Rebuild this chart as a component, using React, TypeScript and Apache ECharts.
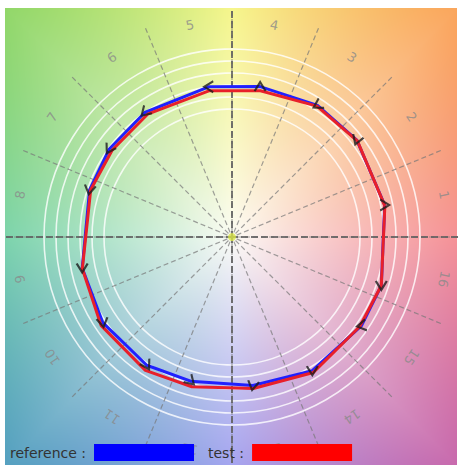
import React, { useEffect, useRef } from "react";
import * as echarts from "echarts";

// hue sector labels (counter-clockwise from the right)
const categories = ["1", "2", "3", "4", "5", "6", "7", "8", "9", "10", "11", "12", "13", "14", "15", "16"];

// reference curve (blue): hue angle (deg) and radius
const refAngle = [11.8, 37.8, 57, 79.4, 98.8, 125, 144.5, 161.7, 191.7, 213.5, 236.4, 254, 278, 301, 325.6, 342];
const refRadius = [156, 158, 157, 153, 152, 152, 151, 150, 153, 155, 154, 150, 150, 156, 157, 157];

// test curve (red)
const testAngle = [11.5, 37.5, 57, 79, 99, 124.5, 144, 161.5, 192, 214, 237, 255, 278, 301, 325, 342];
const testRadius = [156, 158, 156, 149, 148, 149, 148, 149, 153, 158, 159, 155, 153, 158, 156, 157];

// screen direction (deg, ccw from right) of the arrow marker at each reference vertex
const arrowDir = [0, -110, -150, 90, 180, -135, -120, -100, -90, -80, -60, -45, -100, -90, -170, -90];

const CX = 232;
const CY = 237;

function makeBackground(w: number, h: number, cx: number, cy: number): string {
  const c = document.createElement("canvas");
  c.width = w;
  c.height = h;
  const ctx = c.getContext("2d")!;
  const img = ctx.createImageData(w, h);
  const anchors: [number, number[]][] = [
    [0, [245, 145, 150]],
    [45, [250, 165, 92]],
    [90, [246, 246, 140]],
    [135, [145, 215, 105]],
    [180, [125, 212, 172]],
    [225, [85, 160, 192]],
    [270, [165, 165, 240]],
    [315, [200, 105, 172]],
    [360, [245, 145, 150]],
  ];
  const white = [252, 252, 246];
  for (let y = 0; y < h; y++) {
    for (let x = 0; x < w; x++) {
      const dx = x - cx;
      const dy = cy - y;
      let ang = (Math.atan2(dy, dx) * 180) / Math.PI;
      if (ang < 0) ang += 360;
      let k = 0;
      while (k < anchors.length - 2 && anchors[k + 1][0] < ang) k++;
      const a0 = anchors[k];
      const a1 = anchors[k + 1];
      const t = (ang - a0[0]) / (a1[0] - a0[0]);
      const edge = [0, 1, 2].map((i) => a0[1][i] + (a1[1][i] - a0[1][i]) * t);
      const tx = dx > 0 ? (w - cx) / dx : dx < 0 ? -cx / dx : Infinity;
      const ty = dy > 0 ? cy / dy : dy < 0 ? -(h - cy) / dy : Infinity;
      const tm = Math.min(tx, ty);
      const f = Math.min(1, 1 / tm);
      const b = Math.pow(f, 0.9);
      const p = (y * w + x) * 4;
      img.data[p] = white[0] + (edge[0] - white[0]) * b;
      img.data[p + 1] = white[1] + (edge[1] - white[1]) * b;
      img.data[p + 2] = white[2] + (edge[2] - white[2]) * b;
      img.data[p + 3] = 255;
    }
  }
  ctx.putImageData(img, 0, 0);
  return c.toDataURL();
}

export default function App() {
  const ref = useRef<HTMLDivElement>(null);
  useEffect(() => {
    if (!ref.current) return;
    const chart = echarts.init(ref.current, undefined, { renderer: "svg" });
    const bgX = 5;
    const bgY = 8;
    const bgW = 452;
    const bgH = 457;
    const bg = makeBackground(bgW, bgH, CX - bgX, CY - bgY);

    const refData = refAngle.map((a, i) => [refRadius[i], a]);
    refData.push(refData[0]);
    const testData = testAngle.map((a, i) => [testRadius[i], a]);
    testData.push(testData[0]);

    const arrowData = refAngle.map((a, i) => ({
      value: [refRadius[i], a],
      symbolRotate: arrowDir[i] - 90,
    }));

    const labelData = categories.map((c, i) => ({
      value: [216, c],
      label: { rotate: 11.25 + i * 22.5 - 90 },
    }));

    const hiddenRadius = {
      axisLine: { show: false },
      axisTick: { show: false },
      axisLabel: { show: false },
      splitLine: { show: false },
    };

    chart.setOption({
      animation: false,
      graphic: {
        elements: [
          {
            type: "image",
            x: bgX,
            y: bgY,
            z: -100,
            silent: true,
            style: { image: bg, width: bgW, height: bgH },
          },
        ],
      },
      polar: [
        { center: [CX, CY], radius: 226 },
        { center: [CX, CY], radius: 226 },
        { center: [CX, CY], radius: [128, 188] },
      ],
      angleAxis: [
        {
          polarIndex: 0,
          type: "category",
          data: categories,
          startAngle: 0,
          clockwise: false,
          boundaryGap: true,
          axisLine: { show: false },
          axisTick: { show: false },
          axisLabel: { show: false },
          splitLine: {
            show: true,
            interval: 0,
            lineStyle: { color: "rgba(120,120,120,0.7)", width: 1.2, type: [5, 3] },
          },
        },
        {
          polarIndex: 1,
          type: "value",
          min: 0,
          max: 360,
          interval: 90,
          startAngle: 0,
          clockwise: false,
          axisLine: { show: false },
          axisTick: { show: false },
          axisLabel: { show: false },
          splitLine: {
            show: true,
            lineStyle: { color: "rgba(95,95,95,0.85)", width: 2, type: [7, 3] },
          },
        },
        {
          polarIndex: 2,
          type: "value",
          min: 0,
          max: 360,
          show: false,
        },
      ],
      radiusAxis: [
        { polarIndex: 0, type: "value", min: 0, max: 226, ...hiddenRadius },
        { polarIndex: 1, type: "value", min: 0, max: 226, ...hiddenRadius },
        {
          polarIndex: 2,
          type: "value",
          min: 0,
          max: 5,
          interval: 1,
          axisLine: { show: false },
          axisTick: { show: false },
          axisLabel: { show: false },
          splitLine: {
            show: true,
            lineStyle: { color: "rgba(255,255,255,0.8)", width: 1.6 },
          },
        },
      ],
      legend: {
        left: 10,
        top: 444,
        padding: 0,
        itemWidth: 100,
        itemHeight: 17,
        itemGap: 14,
        align: "right",
        icon: "rect",
        formatter: (n: string) => n + " :",
        textStyle: { fontSize: 14, color: "#333", fontFamily: "DejaVu Sans", padding: [0, 3, 0, 0] },
        data: [
          { name: "reference", itemStyle: { color: "#0000ff", borderWidth: 0 } },
          { name: "test", itemStyle: { color: "#ff0000", borderWidth: 0 } },
        ],
      },
      series: [
        {
          name: "sector labels",
          type: "scatter",
          coordinateSystem: "polar",
          polarIndex: 0,
          symbolSize: 0,
          silent: true,
          label: {
            show: true,
            position: "inside",
            formatter: (p: any) => p.value[1],
            color: "#8a8a8a",
            fontSize: 13,
            fontFamily: "DejaVu Sans",
          },
          data: labelData,
          z: 1,
        },
        {
          name: "reference",
          type: "line",
          coordinateSystem: "polar",
          polarIndex: 1,
          color: "#0000ff",
          showSymbol: false,
          symbol: "none",
          lineStyle: { color: "#2020ff", width: 3 },
          data: refData,
          z: 3,
        },
        {
          name: "test",
          type: "line",
          coordinateSystem: "polar",
          polarIndex: 1,
          color: "#ff0000",
          showSymbol: false,
          symbol: "none",
          lineStyle: { color: "#e8202a", width: 3 },
          data: testData,
          z: 4,
        },
        {
          name: "arrows",
          type: "scatter",
          coordinateSystem: "polar",
          polarIndex: 1,
          symbol: "path://M0,10L5,0L10,10",
          symbolSize: [11, 9],
          itemStyle: { color: "transparent", borderColor: "#1c1c1c", borderWidth: 2 },
          data: arrowData,
          z: 5,
        },
        {
          name: "centre",
          type: "scatter",
          coordinateSystem: "polar",
          polarIndex: 1,
          symbol: "circle",
          symbolSize: 8,
          itemStyle: { color: "#d8e448" },
          data: [[0, 0]],
          z: 5,
        },
      ],
    });
    return () => chart.dispose();
  }, []);
  return (
    <div
      ref={ref}
      style={{ position: "absolute", left: 0, top: 0, width: 460, height: 465, background: "#fff" }}
    />
  );
}
